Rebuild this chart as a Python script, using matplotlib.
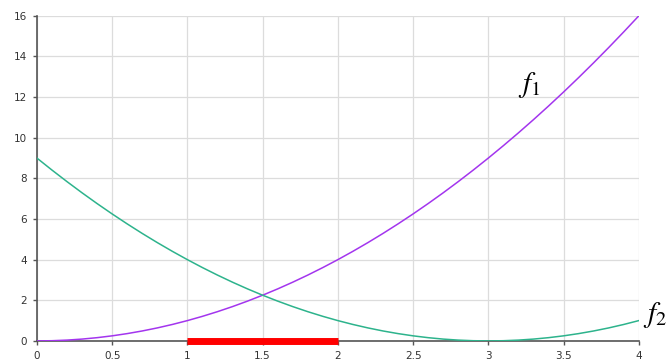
import matplotlib
matplotlib.use("Agg")
import matplotlib.pyplot as plt

plt.rcParams['mathtext.fontset'] = 'stix'

# sample points on [0, 4]
x = [i / 10 for i in range(41)]
f1 = [0, 0.01, 0.04, 0.09, 0.16, 0.25, 0.36, 0.49, 0.64, 0.81,
      1, 1.21, 1.44, 1.69, 1.96, 2.25, 2.56, 2.89, 3.24, 3.61,
      4, 4.41, 4.84, 5.29, 5.76, 6.25, 6.76, 7.29, 7.84, 8.41,
      9, 9.61, 10.24, 10.89, 11.56, 12.25, 12.96, 13.69, 14.44, 15.21, 16]
f2 = [9, 8.41, 7.84, 7.29, 6.76, 6.25, 5.76, 5.29, 4.84, 4.41,
      4, 3.61, 3.24, 2.89, 2.56, 2.25, 1.96, 1.69, 1.44, 1.21,
      1, 0.81, 0.64, 0.49, 0.36, 0.25, 0.16, 0.09, 0.04, 0.01,
      0, 0.01, 0.04, 0.09, 0.16, 0.25, 0.36, 0.49, 0.64, 0.81, 1]
intervalo = [1, 2]

xticks = [0, 0.5, 1, 1.5, 2, 2.5, 3, 3.5, 4]
xlabels = ['0', '0.5', '1', '1.5', '2', '2.5', '3', '3.5', '4']
yticks = [0, 2, 4, 6, 8, 10, 12, 14, 16]

fig = plt.figure(figsize=(6.71, 3.6), dpi=100)
ax = fig.add_axes([0.055, 0.053, 0.897, 0.903])

ax.plot(x, f1, color='#a335ee', lw=1.1, zorder=3)
ax.plot(x, f2, color='#2db38c', lw=1.1, zorder=3)
ax.plot(intervalo, [0, 0], color='#ff0000', lw=5, solid_capstyle='butt',
        zorder=4, clip_on=False)

ax.set_xlim(0, 4)
ax.set_ylim(0, 16)
ax.set_xticks(xticks)
ax.set_xticklabels(xlabels)
ax.set_yticks(yticks)
ax.grid(True, color='#dcdcdc', lw=0.9)
ax.set_axisbelow(True)

for s in ['top', 'right']:
    ax.spines[s].set_visible(False)
for s in ['left', 'bottom']:
    ax.spines[s].set_color('#555555')
    ax.spines[s].set_linewidth(1.2)
ax.tick_params(length=3, width=1, color='#555555', labelsize=7.5,
               labelcolor='#333333', pad=4)

ax.text(3.27, 12.6, '$f_1$', fontsize=21, ha='center', va='center')
ax.text(4.03, 1.3, '$f_2$', fontsize=21, ha='left', va='center', clip_on=False)

fig.savefig('out.png', dpi=100)
